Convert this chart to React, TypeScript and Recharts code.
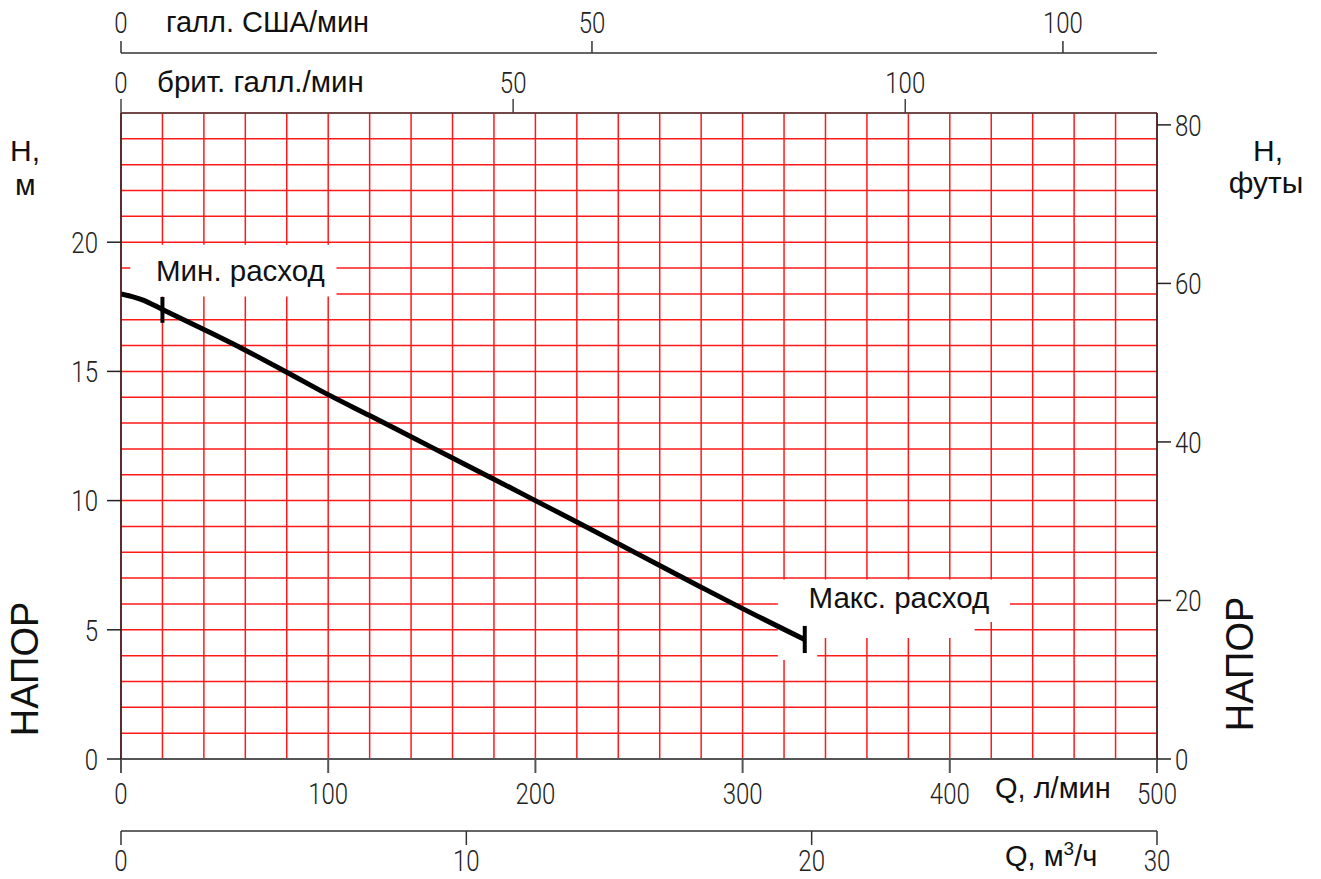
import React from "react";
import {
  ComposedChart,
  Line,
  XAxis,
  YAxis,
  CartesianGrid,
  ReferenceArea,
  ReferenceLine,
} from "recharts";

// pump curve: flow in l/min, head in m
const FLOW_LPM = [0, 10, 20, 40, 60, 80, 100, 120, 140, 160, 180, 200, 220, 240, 260, 280, 300, 330];
const HEAD_M = [18.0, 17.78, 17.4, 16.62, 15.82, 14.97, 14.1, 13.29, 12.47, 11.65, 10.83, 10.0, 9.17, 8.33, 7.49, 6.65, 5.82, 4.62];

const MIN_FLOW = 20;
const MAX_FLOW = 330;

// axis ticks
const LPM_TICKS = [0, 100, 200, 300, 400, 500];
const M3H_TICKS = [0, 10, 20, 30];
const HEAD_TICKS = [0, 5, 10, 15, 20];
const FEET_TICKS = [0, 20, 40, 60, 80];
const GAL_TICKS = [0, 50, 100];

// grid every 20 l/min and every 1 m
const GRID_Q = Array.from({ length: 26 }, (_, i) => i * 20);
const GRID_H = Array.from({ length: 26 }, (_, i) => i);

const Q_MAX = 500;
const H_MAX = 25;
const FT_MAX = 81.5; // as drawn on the sheet
// litres per gallon for the two top scales (labels as printed)
const L_PER_GAL_TOP = 4.546;
const L_PER_GAL_2ND = 3.785;

const data = FLOW_LPM.map((q, i) => ({ q, h: HEAD_M[i] }));

const TXT_FONT = "'Liberation Sans', Arial, sans-serif";

// thin, narrow digits like the drawing's CAD font
function makeTick(dy: string) {
  return (props: any) => {
    const { x, y, payload, textAnchor } = props;
    return (
      <text
        transform={`translate(${x},${y}) scale(0.8,1)`}
        textAnchor={textAnchor}
        dy={dy}
        fontFamily="Roboto, 'DejaVu Sans Condensed', sans-serif"
        fontWeight={300}
        fontSize={30}
        fill="#222"
      >
        {payload.value}
      </text>
    );
  };
}
const bottomTick = makeTick("0.71em");
const topTick = makeTick("0");
const sideTick = makeTick("0.36em");

export default function App() {
  return (
    <div style={{ position: "absolute", left: 0, top: 0, width: 1321, height: 879, background: "#fff" }}>
      <ComposedChart
        width={1321}
        height={879}
        data={data}
        margin={{ top: 13, right: 104, bottom: 0, left: 61 }}
      >
        <CartesianGrid
          xAxisId="a_lpm"
          yAxisId="m"
          stroke="#ff1a1a"
          strokeWidth={1.5}
          verticalValues={GRID_Q}
          horizontalValues={GRID_H}
        />

        {/* bottom: m3/h (outer), l/min (next to plot) */}
        <XAxis
          xAxisId="b_m3h"
          dataKey={(d: any) => (d.q * 60) / 1000}
          type="number"
          domain={[0, (Q_MAX * 60) / 1000]}
          ticks={M3H_TICKS}
          interval={0}
          allowDataOverflow
          orientation="bottom"
          height={48}
          tickSize={14}
          tickMargin={5}
          stroke="#333"
          strokeWidth={1.5}
          tick={bottomTick}
        />
        <XAxis
          xAxisId="a_lpm"
          dataKey="q"
          type="number"
          domain={[0, Q_MAX]}
          ticks={LPM_TICKS}
          interval={0}
          allowDataOverflow
          orientation="bottom"
          height={72}
          tickSize={14}
          tickMargin={10}
          stroke="#555"
          strokeWidth={2}
          tick={bottomTick}
        />

        {/* top: gallons, labelled as on the sheet */}
        <XAxis
          xAxisId="b_us"
          dataKey={(d: any) => d.q / L_PER_GAL_TOP}
          type="number"
          domain={[0, Q_MAX / L_PER_GAL_TOP]}
          ticks={GAL_TICKS}
          interval={0}
          allowDataOverflow
          orientation="top"
          height={40}
          tickSize={12}
          tickMargin={8}
          stroke="#333"
          strokeWidth={1.5}
          tick={topTick}
        />
        <XAxis
          xAxisId="a_brit"
          dataKey={(d: any) => d.q / L_PER_GAL_2ND}
          type="number"
          domain={[0, Q_MAX / L_PER_GAL_2ND]}
          ticks={GAL_TICKS}
          interval={0}
          allowDataOverflow
          orientation="top"
          height={60}
          tickSize={14}
          tickMargin={6}
          stroke="#444"
          strokeWidth={1.5}
          tick={topTick}
        />

        <YAxis
          yAxisId="m"
          type="number"
          domain={[0, H_MAX]}
          ticks={HEAD_TICKS}
          interval={0}
          allowDataOverflow
          width={60}
          tickSize={14}
          tickMargin={9}
          stroke="#222"
          strokeWidth={1.5}
          tick={sideTick}
        />
        <YAxis
          yAxisId="ft"
          orientation="right"
          type="number"
          domain={[0, FT_MAX]}
          ticks={FEET_TICKS}
          interval={0}
          allowDataOverflow
          width={60}
          tickSize={14}
          tickMargin={4}
          stroke="#222"
          strokeWidth={1.5}
          tick={sideTick}
        />

        {/* white label boxes over the grid */}
        <ReferenceArea
          xAxisId="a_lpm"
          yAxisId="m"
          x1={4.5}
          x2={104}
          y1={17.9}
          y2={19.9}
          fill="#fff"
          fillOpacity={1}
          stroke="none"
          label={{ value: "Мин. расход", position: "center", dx: 7, fontSize: 29.5, fontFamily: TXT_FONT, fill: "#111" }}
        />
        <ReferenceArea xAxisId="a_lpm" yAxisId="m" x1={317} x2={412} y1={4.68} y2={5.35} fill="#fff" fillOpacity={1} stroke="none" />
        <ReferenceArea xAxisId="a_lpm" yAxisId="m" x1={317} x2={336} y1={3.83} y2={4.7} fill="#fff" fillOpacity={1} stroke="none" />
        <ReferenceArea
          xAxisId="a_lpm"
          yAxisId="m"
          x1={317}
          x2={429}
          y1={5.3}
          y2={6.95}
          fill="#fff"
          fillOpacity={1}
          stroke="none"
          label={{ value: "Макс. расход", position: "center", dx: 5, dy: -3, fontSize: 29.5, fontFamily: TXT_FONT, fill: "#111" }}
        />

        <Line
          xAxisId="a_lpm"
          yAxisId="m"
          dataKey="h"
          type="monotone"
          stroke="#000"
          strokeWidth={5}
          dot={false}
          isAnimationActive={false}
        />

        {/* min / max flow marks */}
        <ReferenceLine
          xAxisId="a_lpm"
          yAxisId="m"
          segment={[{ x: MIN_FLOW, y: 16.88 }, { x: MIN_FLOW, y: 17.88 }]}
          stroke="#000"
          strokeWidth={4}
        />
        <ReferenceLine
          xAxisId="a_lpm"
          yAxisId="m"
          segment={[{ x: MAX_FLOW, y: 4.1 }, { x: MAX_FLOW, y: 5.15 }]}
          stroke="#000"
          strokeWidth={4}
        />
      </ComposedChart>

      {/* axis titles */}
      <svg
        width={1321}
        height={879}
        style={{ position: "absolute", left: 0, top: 0, pointerEvents: "none" }}
        fontFamily={TXT_FONT}
        fill="#111"
      >
        <text x={166} y={32} fontSize={29}>галл. США/мин</text>
        <text x={157} y={92} fontSize={29.5}>брит. галл./мин</text>

        <text x={10} y={161} fontSize={30}>H,</text>
        <text x={15} y={195} fontSize={30}>м</text>
        <text x={1253} y={161} fontSize={30}>H,</text>
        <text x={1266} y={193} fontSize={30} textAnchor="middle">футы</text>

        <text x={38} y={669} fontSize={38} textAnchor="middle" transform="rotate(-90 38 669)">НАПОР</text>
        <text x={1253} y={664} fontSize={38} textAnchor="middle" transform="rotate(-90 1253 664)">НАПОР</text>

        <text x={995} y={798} fontSize={29}>Q, л/мин</text>
        <text x={1005} y={866} fontSize={29}>
          Q, м<tspan fontSize={19} dy={-11}>3</tspan>
          <tspan dy={11}>/ч</tspan>
        </text>
      </svg>
    </div>
  );
}
